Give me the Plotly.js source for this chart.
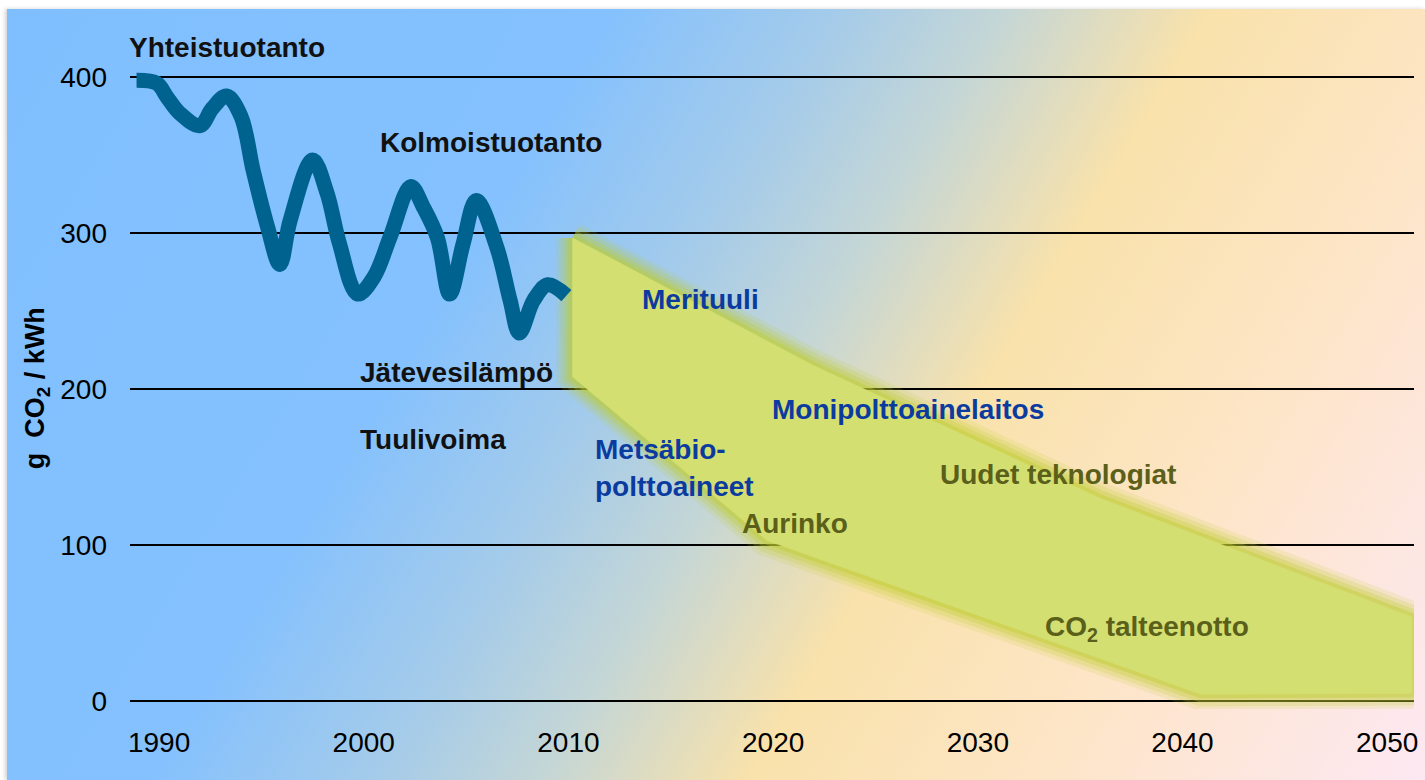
<!DOCTYPE html>
<html>
<head>
<meta charset="utf-8">
<script src="https://cdn.plot.ly/plotly-3.0.1.min.js"></script>
<style>
  html, body { margin:0; padding:0; background:#ffffff; }
  #bg { position:absolute; left:7px; top:9px; right:0; bottom:0;
        background: linear-gradient(121deg, #80bfff 0%, #84c1fe 32%, #a4cbea 44%, #c4d6d6 53%, #f9e2ab 64%, #fde5c6 79%, #fde8f3 100%);
        box-shadow: -2px 0 4px rgba(0,0,0,0.18); }
  #chart { position:absolute; left:0; top:0; width:1425px; height:780px; }
</style>
</head>
<body>
<div id="bg"></div>
<div id="chart"></div>
<script>
// ---- data ----
const lineYears = [1988.9, 1989.9, 1990.4, 1991.0, 1992.0, 1992.6, 1993.3, 1994.0, 1994.6, 1995.3, 1995.9, 1996.4, 1997.5, 1998.2, 1998.8, 1999.7, 2000.5, 2001.3, 2002.3, 2002.9, 2003.6, 2004.2, 2004.85, 2005.5, 2006.5, 2007.15, 2007.6, 2008.3, 2009.0, 2009.9];
const lineValues = [398, 396, 387, 377, 369, 380, 388, 375, 340, 304, 280, 308, 347, 326, 294, 261, 272, 298, 330, 317, 297, 261, 293, 321, 291, 257, 236, 257, 267, 260];

const bandYears = [2010.2, 2022.0, 2036.0, 2051.2, 2051.2, 2040.9, 2019.7, 2010.2, 2010.2];
const bandValues = [297, 215, 130, 54, 5, 4.5, 103, 208, 297];

const xTickVals = [1990, 2000, 2010, 2020, 2030, 2040, 2050];
const xTickText = ['1990', '2000', '2010', '2020', '2030', '2040', '2050'];
const yTickVals = [0, 100, 200, 300, 400];

const yTitle = 'g  CO<sub>2</sub> / kWh';
const labelTexts = ['Yhteistuotanto', 'Kolmoistuotanto', 'Jätevesilämpö', 'Tuulivoima', 'Merituuli', 'Monipolttoainelaitos', 'Metsäbio-', 'polttoaineet', 'Aurinko', 'Uudet teknologiat', 'CO<sub>2</sub> talteenotto'];
const labelX = [-0.0023, 0.1931, 0.1776, 0.1776, 0.397, 0.4984, 0.3606, 0.3606, 0.475, 0.6293, 0.711];
const labelY = [0.997, 0.855, 0.507, 0.406, 0.617, 0.451, 0.391, 0.336, 0.2805, 0.353, 0.122];
const labelColors = ['#111111', '#111111', '#111111', '#111111', '#0b3b9f', '#0b3b9f', '#0b3b9f', '#0b3b9f', '#5a5f1a', '#5a5f1a', '#5a5f1a'];

// ---- traces ----
const FONT = 'Liberation Sans, Arial, sans-serif';
const traces = [];
const glow = [[32, 'rgba(190,205,45,0.14)'], [24, 'rgba(190,205,45,0.2)'], [16, 'rgba(190,205,45,0.28)'], [8, 'rgba(190,205,45,0.4)']];
glow.forEach(g => traces.push({
  x: bandYears, y: bandValues, type: 'scatter', mode: 'lines',
  line: { color: g[1], width: g[0] }, hoverinfo: 'skip', showlegend: false
}));
traces.push({
  x: bandYears, y: bandValues, type: 'scatter', mode: 'lines', fill: 'toself',
  fillcolor: '#d4df72', line: { color: '#d4df72', width: 0.5 }, showlegend: false
});
traces.push({
  x: lineYears, y: lineValues, type: 'scatter', mode: 'lines',
  line: { color: '#00628f', width: 15, shape: 'spline', smoothing: 1 }, showlegend: false
});

const annotations = labelTexts.map((t, i) => ({
  text: '<b>' + t + '</b>', xref: 'paper', yref: 'paper', x: labelX[i], y: labelY[i],
  xanchor: 'left', yanchor: 'middle', showarrow: false,
  font: { family: FONT, size: 28, color: labelColors[i] }
}));
annotations.push({
  text: '<b>' + yTitle + '</b>', xref: 'paper', yref: 'paper', x: -0.0724, y: 0.484,
  xanchor: 'center', yanchor: 'middle', textangle: -90, showarrow: false,
  font: { family: FONT, size: 27, color: '#000' }
});

const layout = {
  width: 1425, height: 780,
  margin: { l: 130, r: 11, t: 46, b: 71 },
  paper_bgcolor: 'rgba(0,0,0,0)', plot_bgcolor: 'rgba(0,0,0,0)',
  font: { family: FONT, size: 28, color: '#000' },
  showlegend: false,
  xaxis: {
    range: [1988.58, 2051.31], tickvals: xTickVals, ticktext: xTickText,
    showgrid: false, zeroline: false, showline: false, ticks: '',
    ticklabelstandoff: 14, tickfont: { size: 28, color: '#000' }
  },
  yaxis: {
    range: [-5, 420], tickvals: yTickVals, showgrid: true, gridcolor: '#000', gridwidth: 2.3,
    zeroline: false, showline: false, ticks: '', ticklabelstandoff: 22,
    tickfont: { size: 28, color: '#000' }
  },
  annotations: annotations
};

Plotly.newPlot('chart', traces, layout, { displayModeBar: false, staticPlot: true });
</script>
</body>
</html>
